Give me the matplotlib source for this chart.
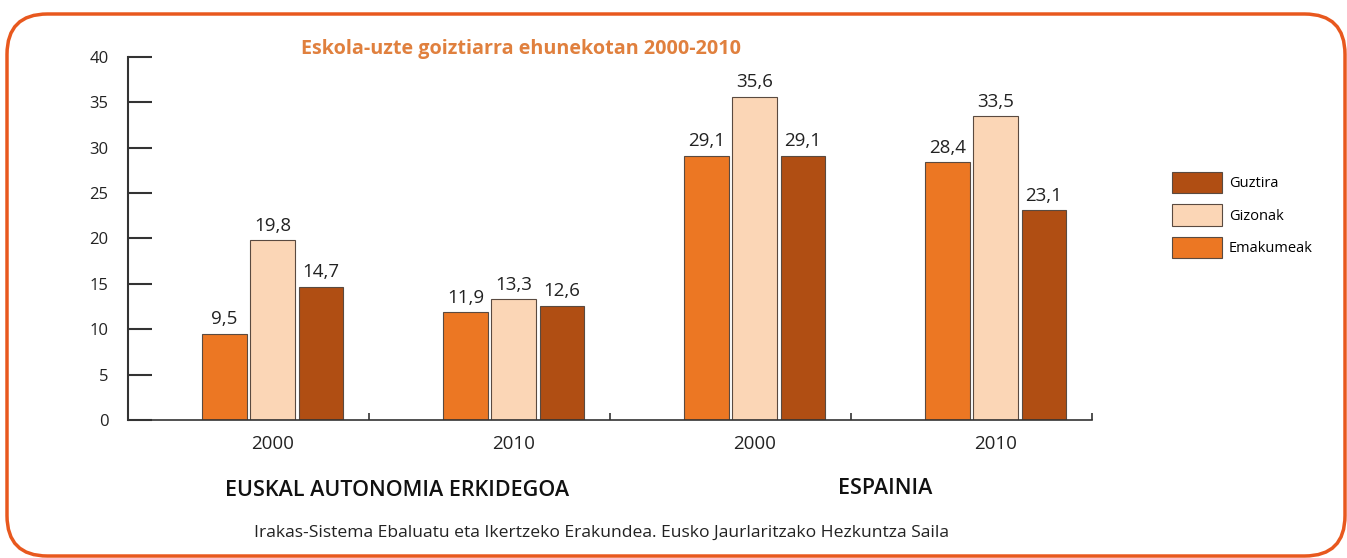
import matplotlib
matplotlib.use("Agg")
import matplotlib.pyplot as plt
from matplotlib.patches import FancyBboxPatch, Patch
import numpy as np

plt.rcParams['font.family'] = ['Open Sans', 'DejaVu Sans']

years = ["2000", "2010", "2000", "2010"]
regions = ["EUSKAL AUTONOMIA ERKIDEGOA", "ESPAINIA"]
series_names = ["Emakumeak", "Gizonak", "Guztira"]
emakumeak = [9.5, 11.9, 29.1, 28.4]
gizonak = [19.8, 13.3, 35.6, 33.5]
guztira = [14.7, 12.6, 29.1, 23.1]
colors = ["#EC7723", "#FBD6B6", "#B04E13"]
title = "Eskola-uzte goiztiarra ehunekotan 2000-2010"
source = "Irakas-Sistema Ebaluatu eta Ikertzeko Erakundea. Eusko Jaurlaritzako Hezkuntza Saila"

W, H = 1347, 558
fig = plt.figure(figsize=(W/100, H/100), dpi=100)
ax = fig.add_axes([128/W, 1-420/H, (1092-128)/W, (420-57)/H])

x = np.arange(len(years))
bw = 0.185
step = 0.2
for k, (vals, c) in enumerate(zip([emakumeak, gizonak, guztira], colors)):
    pos = x + (k-1)*step
    ax.bar(pos, vals, width=bw, color=c, edgecolor="#5a4a40", linewidth=0.8, zorder=2)
    for p, v in zip(pos, vals):
        ax.text(p, v + 0.6, f"{v:.1f}".replace(".", ","), ha="center", va="bottom",
                fontsize=13.5, color="#222222")

ax.set_xlim(-0.6, 3.4)
ax.set_ylim(0, 40)
ax.set_yticks(range(0, 41, 5))
ax.set_xticks(x + 0.4)
ax.set_xticklabels([])
ax.tick_params(axis="y", direction="in", length=17, width=1.5, color="#333333",
               labelsize=12, pad=14, labelcolor="#222222")
ax.tick_params(axis="x", direction="in", length=5, width=1.2, color="#333333")
for s in ["top", "right"]:
    ax.spines[s].set_visible(False)
ax.spines["left"].set_linewidth(1.5)
ax.spines["bottom"].set_linewidth(1.2)
ax.spines["left"].set_color("#333333")
ax.spines["bottom"].set_color("#333333")

for xi, y in zip(x, years):
    ax.text(xi, -2.6, y, ha="center", va="center", fontsize=13.5, color="#222222")

fig.text(397/W, 1-491/H, regions[0], ha="center", va="center", fontsize=15.5,
         fontweight="semibold", color="#111111")
fig.text(885/W, 1-488/H, regions[1], ha="center", va="center", fontsize=15.5,
         fontweight="semibold", color="#111111")
fig.text(602/W, 1-533/H, source, ha="center", va="center", fontsize=12.6, color="#222222")
fig.text(521/W, 1-49/H, title, ha="center", va="center", fontsize=14.2,
         fontweight="bold", color="#E0803E")

handles = [Patch(facecolor=colors[i], edgecolor="#5a4a40", linewidth=0.8, label=series_names[i])
           for i in [2, 1, 0]]
fig.legend(handles=handles, loc="upper left", bbox_to_anchor=(1166/W, 1-166/H),
           frameon=False, fontsize=10.5, handlelength=3.45, handleheight=1.9,
           labelspacing=0.75, handletextpad=0.45, borderaxespad=0)

border = FancyBboxPatch((7/W, 1-556/H), (1345-7)/W, (556-14)/H,
                        boxstyle="round,pad=0,rounding_size=0.03",
                        transform=fig.transFigure, facecolor="none",
                        edgecolor="#E8581E", linewidth=2.5, mutation_aspect=W/H)
fig.patches.append(border)

fig.savefig("out.png", dpi=100)
